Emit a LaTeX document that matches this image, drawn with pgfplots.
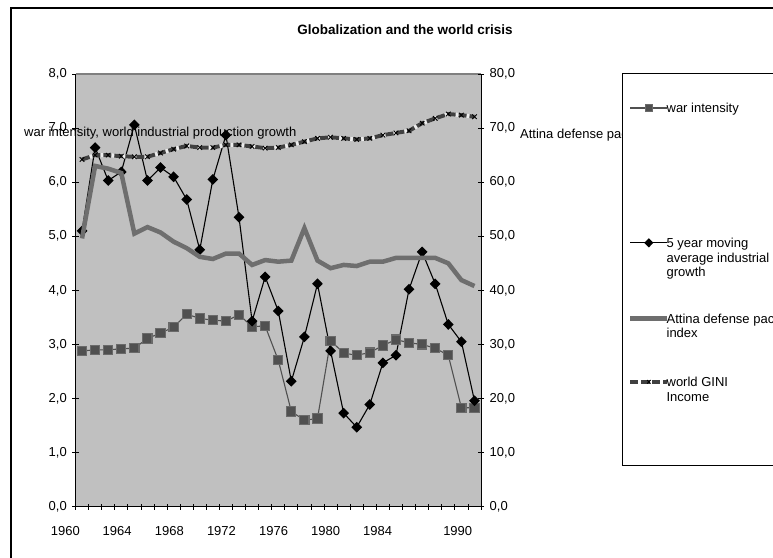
\documentclass[border=0pt]{standalone}
\usepackage{pgfplots}
\pgfplotsset{compat=1.18}
\usepackage{pgfplotstable}
\usepackage{fontspec}
\setmainfont{Liberation Sans}
\definecolor{bgcol}{RGB}{192,192,192}
\definecolor{warcol}{RGB}{80,80,80}
\definecolor{attcol}{RGB}{110,110,110}
\definecolor{ginicol}{RGB}{64,64,64}
\definecolor{bordercol}{RGB}{128,128,128}

\pgfplotstableread{
k war ind
0 2.88 5.10
1 2.90 6.64
2 2.90 6.03
3 2.92 6.19
4 2.93 7.06
5 3.11 6.03
6 3.21 6.27
7 3.32 6.10
8 3.56 5.68
9 3.48 4.75
10 3.45 6.05
11 3.43 6.87
12 3.55 5.35
13 3.33 3.43
14 3.34 4.25
15 2.71 3.62
16 1.76 2.32
17 1.60 3.14
18 1.63 4.12
19 3.07 2.88
20 2.84 1.73
21 2.80 1.47
22 2.85 1.89
23 2.98 2.66
24 3.09 2.80
25 3.03 4.02
26 3.00 4.71
27 2.93 4.12
28 2.80 3.37
29 1.83 3.05
30 1.83 1.96
}\lefttable

\pgfplotstableread{
k att gini
0 49.6 64.2
1 63.0 65.0
2 62.5 65.0
3 61.7 64.8
4 50.5 64.7
5 51.7 64.7
6 50.7 65.4
7 49.0 66.1
8 47.8 66.7
9 46.2 66.4
10 45.8 66.4
11 46.8 66.9
12 46.8 66.9
13 44.7 66.6
14 45.6 66.3
15 45.3 66.4
16 45.5 66.9
17 51.5 67.5
18 45.5 68.1
19 44.1 68.3
20 44.7 68.1
21 44.5 67.9
22 45.3 68.1
23 45.3 68.7
24 46.0 69.1
25 46.0 69.5
26 46.0 70.9
27 46.0 71.8
28 45.0 72.6
29 41.9 72.4
30 40.8 72.1
}\righttable

\newcommand{\lf}{\fontsize{13}{14.7}\selectfont}

\pgfplotsset{
  common/.style={
    at={(75.5pt,50.3pt)}, anchor=south west,
    scale only axis, width=405.5pt, height=432.7pt,
    xmin=-0.5, xmax=30.5,
    tick align=center, major tick length=6pt,
    tick style={black, line width=0.8pt},
    axis line style={black, line width=0.9pt, -},
    ticklabel style={font=\lf},
    /pgf/number format/fixed, /pgf/number format/fixed zerofill,
    /pgf/number format/precision=1, /pgf/number format/use comma,
    /pgf/number format/assume math mode=true,
    clip=false,
    legend image code/.code={\draw[mark repeat=2,mark phase=2,##1] plot coordinates {(0pt,4.6pt) (18.5pt,4.6pt) (37pt,4.6pt)};},
  },
  warstyle/.style={color=warcol, line width=1.1pt, mark=square*, mark size=4.6pt, mark options={fill=warcol, draw=warcol!85!white}},
  indstyle/.style={color=black, line width=1.1pt, mark=diamond*, mark size=4.6pt, mark options={fill=black, xscale=1.33}},
  attstyle/.style={color=attcol, line width=4.5pt},
  ginistyle/.style={color=ginicol, line width=4pt, dash pattern=on 8pt off 3pt, mark=x, mark size=3.2pt, mark options={solid, black, line width=0.9pt}},
  giniimage/.style={legend image code/.code={\draw[white!85!gray, line width=4pt] (0pt,4.6pt) -- (37pt,4.6pt); \draw[mark repeat=2,mark phase=2,##1, mark size=2.5pt] plot coordinates {(0pt,4.6pt) (18.5pt,4.6pt) (37pt,4.6pt)};}},
}

\begin{document}
\begin{tikzpicture}
\useasboundingbox (0pt,0pt) rectangle (773pt,557pt);
\clip (0pt,0pt) rectangle (773pt,557pt);
\fill[white] (0pt,0pt) rectangle (773pt,557pt);
\draw[black, line width=1.2pt] (11pt,-5pt) -- (11pt,549pt) -- (790pt,549pt);
\node[font=\fontsize{13.5}{15}\selectfont\bfseries] at (405pt,527pt) {Globalization and the world crisis};

\begin{axis}[common,
  ymin=0, ymax=8,
  axis x line*=bottom, axis y line*=left,
  xtick={-0.5,0.5,...,30.5}, xticklabel=\empty,
  ytick={0,1,...,8},
  yticklabel style={anchor=east, inner sep=0pt, xshift=-5.5pt},
  axis background/.style={fill=bgcol},
]
\draw[bordercol, line width=1.3pt] (rel axis cs:0,1) -- (rel axis cs:1,1);
\addplot[warstyle] table[x=k, y=war] {\lefttable};
\addplot[indstyle] table[x=k, y=ind] {\lefttable};
\foreach \p/\t in {-1.28/1960, 2.68/1964, 6.68/1968, 10.66/1972, 14.64/1976, 18.62/1980, 22.6/1984, 28.72/1990}{
  \edef\temp{\noexpand\node[font=\noexpand\lf, anchor=center] at (axis cs:\p,0) [yshift=-24.3pt] {\t};}
  \temp
}
\end{axis}

\node[font=\lf, anchor=west, inner sep=0pt] at (24pt,423.5pt) {war intensity, world industrial production growth};
\node[font=\lf, anchor=west, inner sep=0pt] at (520pt,421.5pt) {Attina defense pact index};

\begin{axis}[common,
  ymin=0, ymax=80,
  axis y line*=right, axis x line=none,
  ytick={0,10,...,80},
  yticklabel style={anchor=west, inner sep=0pt, xshift=5.5pt},
  legend style={at={(1.347,1.003)}, anchor=north west, draw=black, line width=0.8pt, fill=white,
    font=\lf, inner xsep=6pt, inner ysep=0pt, row sep=0pt, column sep=-3pt,
    nodes={inner sep=0pt, anchor=base west, text height=, text depth=}},
  legend cell align=left,
]
\addlegendimage{warstyle, mark size=3.8pt}
\addlegendentry{\parbox[t]{140pt}{\rule[-124.8pt]{0pt}{164.3pt}war intensity}}
\addlegendimage{indstyle, mark size=3.8pt}
\addlegendentry{\parbox[t]{140pt}{\raggedright\rule{0pt}{10pt}5 year moving\\ average industrial\\ growth\rule[-36.4pt]{0pt}{0pt}}}
\addplot[attstyle] table[x=k, y=att] {\righttable};
\addlegendentry{\parbox[t]{140pt}{\raggedright\rule{0pt}{10pt}Attina defense pact\\ index\rule[-38.5pt]{0pt}{0pt}}}
\addplot[forget plot, color=white!85!gray, line width=4pt] table[x=k, y=gini] {\righttable};
\addplot[ginistyle, giniimage] table[x=k, y=gini] {\righttable};
\addlegendentry{\parbox[t]{140pt}{\raggedright\rule{0pt}{10pt}world GINI\\ Income\rule[-64.3pt]{0pt}{0pt}}}
\end{axis}
\end{tikzpicture}
\end{document}
